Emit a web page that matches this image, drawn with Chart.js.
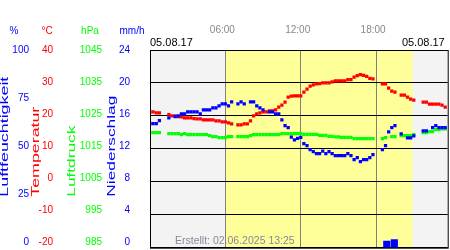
<!DOCTYPE html>
<html>
<head>
<meta charset="utf-8">
<script src="https://cdn.jsdelivr.net/npm/chart.js@4/dist/chart.umd.min.js"></script>
<style>
  html, body { margin: 0; padding: 0; background: #fff; }
  canvas { display: block; }
</style>
</head>
<body>
<canvas id="weatherChart" width="450" height="250"></canvas>
<script>
// time of day in hours, one reading every 15 minutes
const hours = [
    0, 0.25, 0.5, 0.75, 1, 1.25, 1.5, 1.75, 2, 2.25,
    2.5, 2.75, 3, 3.25, 3.5, 3.75, 4, 4.25, 4.5, 4.75,
    5, 5.25, 5.5, 5.75, 6, 6.25, 6.5, 6.75, 7, 7.25,
    7.5, 7.75, 8, 8.25, 8.5, 8.75, 9, 9.25, 9.5, 9.75,
    10, 10.25, 10.5, 10.75, 11, 11.25, 11.5, 11.75, 12, 12.25,
    12.5, 12.75, 13, 13.25, 13.5, 13.75, 14, 14.25, 14.5, 14.75,
    15, 15.25, 15.5, 15.75, 16, 16.25, 16.5, 16.75, 17, 17.25,
    17.5, 17.75, 18, 18.25, 18.5, 18.75, 19, 19.25, 19.5, 19.75,
    20, 20.25, 20.5, 20.75, 21, 21.25, 21.5, 21.75, 22, 22.25,
    22.5, 22.75, 23, 23.25, 23.5
];

// Luftfeuchtigkeit (%)
const humidity = [
    62.7, 62.7, 62.7, 64.3, null, null, 65.7, null, 66.3, 66.7,
    67.7, 67.7, 68.7, 68.7, 68.7, 68.7, 67.7, 69.7, 69.7, 69.7,
    70.7, 70.7, 71.7, 72.7, 72.7, 71.7, 73.7, null, 72.7, 73.7,
    72.7, null, 73.7, 73.7, 71.7, 70.7, 69.7, null, 68.7, 68.7,
    67.7, 67.7, 64.7, 61.8, 60.7, 55.9, 54.6, 55.3, 55.8, 52.6,
    51.6, 49.6, 48.6, 47.6, 47.6, 48.9, 47.6, 48.6, 47.6, 46.6,
    46.6, 46.6, 46.6, 47.6, 46.6, 44.6, 45.6, 43.6, 44.6, 44.6,
    45.6, 47.1, null, null, 49.6, 51.6, 58.6, 60.7, 61.7, null,
    57.6, null, 55.6, 55.6, 56.6, null, null, 59.1, 59.1, null,
    60.7, 61.7, 60.7, 60.7, 60.7
];

// Temperatur (°C)
const temperature = [
    21.2, 21.2, 20.9, 20.9, null, null, 20.4, 20.0, 20.0, 19.8,
    19.7, 19.4, 19.4, 19.4, 19.2, 19.1, 19.1, 18.8, 18.8, 18.8,
    18.8, 18.5, 18.5, 18.2, 18.2, 17.9, 17.6, null, 17.3, 17.3,
    17.6, 17.6, 18.5, 20.0, 20.6, 20.9, 21.2, 21.2, 21.5, 21.5,
    21.8, 22.7, 23.3, 24.2, 25.7, 26.0, 26.1, 26.1, 26.1, 27.2,
    28.1, 29.0, 29.4, 29.7, 29.8, 30.0, 30.0, 30.0, 30.3, 30.6,
    30.6, 30.6, 30.6, 31.0, 31.0, 31.8, 32.2, 32.5, 32.3, 32.0,
    31.4, 31.2, null, null, 29.7, 29.7, 28.4, 27.5, 27.2, null,
    26.3, 26.3, 25.7, 25.1, 24.8, null, null, 24.2, 24.2, 23.6,
    23.6, 23.6, 23.6, 23.3, 22.7
];

// Luftdruck (hPa)
const pressure = [
    1019.9, 1019.9, 1019.9, 1019.9, null, null, 1019.6, 1019.6, 1019.6, 1019.6,
    1019.3, 1019.6, 1019.3, 1019.3, 1019.3, 1019.3, 1019.3, 1019.3, 1019.3, 1019.0,
    1018.7, 1018.7, 1018.4, 1018.4, 1018.4, 1018.7, 1018.7, null, 1018.7, 1018.7,
    1018.7, 1018.7, 1019.0, 1019.3, 1019.3, 1019.3, 1019.3, 1019.3, 1019.3, 1019.3,
    1019.3, 1019.3, 1019.6, 1019.6, 1019.6, 1019.6, 1019.6, 1019.6, 1019.7, 1019.4,
    1019.4, 1019.4, 1019.4, 1019.4, 1019.1, 1019.1, 1019.1, 1018.8, 1018.8, 1018.6,
    1018.6, 1018.5, 1018.5, 1018.5, 1018.5, 1018.1, 1018.1, 1018.1, 1018.1, 1018.1,
    1018.1, 1018.1, null, null, 1018.1, 1018.4, null, 1018.7, 1018.7, null,
    1019.0, 1019.0, 1019.0, 1019.0, 1019.3, null, null, 1019.9, 1019.9, 1020.2,
    1020.2, 1020.8, 1020.8, 1021.1, 1021.1
];

// Niederschlag (mm/h)
const rainHours = [18.85, 19.45];
const rainValues = [0.8, 1.0];

// Achsen
const dayRange = [0, 23.7];
const daylight = [5.97, 20.9];
const timeTicks = [6, 12, 18];
const timeLabels = ['06:00', '12:00', '18:00'];
const dateLabels = ['05.08.17', '05.08.17'];
const humidityTicks = [0, 25, 50, 75, 100];
const temperatureTicks = [-20, -10, 0, 10, 20, 30, 40];
const pressureTicks = [985, 995, 1005, 1015, 1025, 1035, 1045];
const rainTicks = [0, 4, 8, 12, 16, 20, 24];
const createdText = 'Erstellt: 02.06.2025 13:25';

const FONT = "'Liberation Sans', Arial, sans-serif";
const BLUE = '#0000ff';
const RED = '#ff0000';
const GREEN = '#00ff00';

// left-hand axis columns: tick labels, unit on top, stretched vertical title
const axisColumns = [
    { id: 'yH', ticks: humidityTicks, color: BLUE, right: 29, unit: '%', unitX: 14, title: 'Luftfeuchtigkeit', titleX: 5, titleLen: 120 },
    { id: 'yT', ticks: temperatureTicks, color: RED, right: 53, unit: '°C', unitX: 47, title: 'Temperatur', titleX: 36, titleLen: 90 },
    { id: 'yP', ticks: pressureTicks, color: GREEN, right: 102, unit: 'hPa', unitX: 90, title: 'Luftdruck', titleX: 72, titleLen: 71 },
    { id: 'yR', ticks: rainTicks, color: BLUE, right: 130, unit: 'mm/h', unitX: 132, title: 'Niederschlag', titleX: 112, titleLen: 101 }
];

function toPoints(values) {
    return hours.map((h, i) => ({ x: h, y: values[i] }));
}

function pointSeries(label, values, color, axisId) {
    return {
        label: label,
        data: toPoints(values),
        yAxisID: axisId,
        xAxisID: 'x',
        showLine: false,
        pointStyle: 'rect',
        pointRadius: 2.3,
        pointHoverRadius: 2.3,
        pointBorderWidth: 0,
        pointBackgroundColor: color,
        borderColor: color,
        backgroundColor: color
    };
}

// background, frame and all the texts around the plot
const decorPlugin = {
    id: 'decor',
    beforeDraw(chart) {
        const { ctx, chartArea: a, scales } = chart;
        ctx.save();
        ctx.fillStyle = '#f3f3f3';
        ctx.fillRect(a.left, a.top, a.width, a.height);
        const x0 = scales.x.getPixelForValue(daylight[0]);
        const x1 = scales.x.getPixelForValue(daylight[1]);
        ctx.fillStyle = '#ffff99';
        ctx.fillRect(x0, a.top, x1 - x0, a.height);
        ctx.restore();
    },
    afterDraw(chart) {
        const { ctx, chartArea: a, scales } = chart;
        ctx.save();

        ctx.strokeStyle = '#000';
        ctx.lineWidth = 1;
        ctx.strokeRect(a.left + 0.5, a.top + 0.5, a.width, a.height);

        ctx.textBaseline = 'middle';

        // hours on top
        ctx.font = '10px ' + FONT;
        ctx.fillStyle = '#888888';
        ctx.textAlign = 'center';
        timeTicks.forEach((t, i) => {
            ctx.fillText(timeLabels[i], scales.x.getPixelForValue(t) - 3, 30);
        });

        // date at both ends
        ctx.font = '11px ' + FONT;
        ctx.fillStyle = '#000000';
        ctx.textAlign = 'left';
        ctx.fillText(dateLabels[0], scales.x.getPixelForValue(dayRange[0]), 43);
        ctx.textAlign = 'right';
        ctx.fillText(dateLabels[1], scales.x.getPixelForValue(dayRange[1]) - 3, 43);

        axisColumns.forEach(col => {
            const scale = chart.scales[col.id];
            ctx.fillStyle = col.color;

            // tick labels, squeezed a little so the lowest one stays inside
            ctx.font = '10px ' + FONT;
            ctx.textAlign = 'right';
            col.ticks.forEach(v => {
                const py = scale.getPixelForValue(v);
                const y = scale.top + (py - scale.top) * (scale.height - 5) / scale.height;
                ctx.fillText(String(v), col.right, y);
            });

            // unit
            ctx.textAlign = 'center';
            ctx.fillText(col.unit, col.unitX, 31);

            // vertical title
            ctx.save();
            ctx.translate(col.titleX, a.bottom - 51);
            ctx.rotate(-Math.PI / 2);
            ctx.scale(col.titleLen / ctx.measureText(col.title).width, 1);
            ctx.textAlign = 'left';
            ctx.fillText(col.title, 0, 0);
            ctx.restore();
        });

        ctx.fillStyle = '#888899';
        ctx.font = '10.5px ' + FONT;
        ctx.textAlign = 'left';
        ctx.fillText(createdText, a.left + 25, a.bottom - 7);

        ctx.restore();
    }
};

const ctx = document.getElementById('weatherChart').getContext('2d');
const weatherChart = new Chart(ctx, {
    type: 'line',
    data: {
        datasets: [
            pointSeries('Luftfeuchtigkeit', humidity, BLUE, 'yH'),
            pointSeries('Temperatur', temperature, RED, 'yT'),
            pointSeries('Luftdruck', pressure, GREEN, 'yP'),
            {
                type: 'bar',
                label: 'Niederschlag',
                data: rainHours.map((h, i) => ({ x: h, y: rainValues[i] })),
                xAxisID: 'x',
                yAxisID: 'yR',
                backgroundColor: BLUE,
                borderWidth: 0,
                barThickness: 6.5
            }
        ]
    },
    options: {
        responsive: false,
        animation: false,
        devicePixelRatio: 1,
        layout: { padding: { left: 150, top: 50, right: 1, bottom: 1 } },
        plugins: {
            legend: { display: false },
            tooltip: { enabled: false }
        },
        scales: {
            x: {
                type: 'linear',
                position: 'top',
                offset: false,
                min: dayRange[0],
                max: dayRange[1],
                afterBuildTicks: s => { s.ticks = timeTicks.map(v => ({ value: v })); },
                grid: { color: '#808080', lineWidth: 1, drawTicks: false, offset: false },
                border: { display: false },
                ticks: { display: false }
            },
            yT: {
                type: 'linear',
                position: 'left',
                min: temperatureTicks[0],
                max: temperatureTicks[temperatureTicks.length - 1],
                afterFit: s => { s.width = 0; },
                grid: { color: '#000000', lineWidth: 1, drawTicks: false },
                border: { display: false },
                ticks: { display: false, stepSize: 10 }
            },
            yH: {
                type: 'linear',
                position: 'left',
                display: false,
                min: humidityTicks[0],
                max: humidityTicks[humidityTicks.length - 1]
            },
            yP: {
                type: 'linear',
                position: 'left',
                display: false,
                min: pressureTicks[0],
                max: pressureTicks[pressureTicks.length - 1]
            },
            yR: {
                type: 'linear',
                position: 'left',
                display: false,
                min: rainTicks[0],
                max: rainTicks[rainTicks.length - 1]
            }
        }
    },
    plugins: [decorPlugin]
});
</script>
</body>
</html>
